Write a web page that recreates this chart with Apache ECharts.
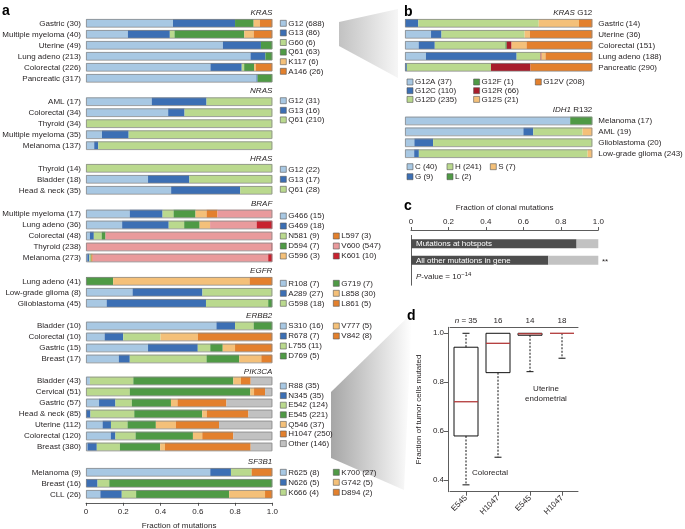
<!DOCTYPE html>
<html><head><meta charset="utf-8">
<script src="https://cdn.jsdelivr.net/npm/echarts@6/dist/echarts.min.js"></script>
<style>html,body{margin:0;padding:0;background:#fff}#c{width:685px;height:529px}</style>
</head><body><div id="c"></div>
<script>
// ================= DATA =================
// Panel a : fraction of mutations per hotspot (one array per mutation, values follow the row order)
const krasRows = ['Gastric (30)', 'Multiple myeloma (40)', 'Uterine (49)', 'Lung adeno (213)', 'Colorectal (226)', 'Pancreatic (317)'];
const krasMuts = ['G12 (688)', 'G13 (86)', 'G60 (6)', 'Q61 (63)', 'K117 (6)', 'A146 (26)'];
const krasG12 = [0.467, 0.225, 0.735, 0.883, 0.668, 0.915];
const krasG13 = [0.333, 0.225, 0.204, 0.080, 0.168, 0.006];
const krasG60 = [0, 0.025, 0, 0, 0.013, 0];
const krasQ61 = [0.100, 0.375, 0.061, 0.037, 0.053, 0.079];
const krasK117 = [0.033, 0.050, 0, 0, 0.009, 0];
const krasA146 = [0.067, 0.100, 0, 0, 0.089, 0];

const nrasRows = ['AML (17)', 'Colorectal (34)', 'Thyroid (34)', 'Multiple myeloma (35)', 'Melanoma (137)'];
const nrasMuts = ['G12 (31)', 'G13 (16)', 'Q61 (210)'];
const nrasG12 = [0.353, 0.441, 0, 0.086, 0.044];
const nrasG13 = [0.294, 0.088, 0, 0.143, 0.022];
const nrasQ61 = [0.353, 0.471, 1, 0.771, 0.934];

const hrasRows = ['Thyroid (14)', 'Bladder (18)', 'Head & neck (35)'];
const hrasMuts = ['G12 (22)', 'G13 (17)', 'Q61 (28)'];
const hrasG12 = [0, 0.333, 0.457];
const hrasG13 = [0, 0.222, 0.371];
const hrasQ61 = [1, 0.445, 0.172];

const brafRows = ['Multiple myeloma (17)', 'Lung adeno (36)', 'Colorectal (48)', 'Thyroid (238)', 'Melanoma (273)'];
const brafMuts = ['G466 (15)', 'G469 (18)', 'N581 (9)', 'D594 (7)', 'G596 (3)', 'L597 (3)', 'V600 (547)', 'K601 (10)'];
const brafG466 = [0.235, 0.194, 0.021, 0, 0.007];
const brafG469 = [0.176, 0.250, 0.021, 0, 0.011];
const brafN581 = [0.059, 0.083, 0.042, 0, 0.007];
const brafD594 = [0.118, 0.083, 0.021, 0, 0.004];
const brafG596 = [0.059, 0.056, 0, 0, 0];
const brafL597 = [0.059, 0, 0, 0, 0.007];
const brafV600 = [0.294, 0.250, 0.895, 0.996, 0.942];
const brafK601 = [0, 0.084, 0, 0.004, 0.022];

const egfrRows = ['Lung adeno (41)', 'Low-grade glioma (8)', 'Glioblastoma (45)'];
const egfrMuts = ['R108 (7)', 'A289 (27)', 'G598 (18)', 'G719 (7)', 'L858 (30)', 'L861 (5)'];
const egfrR108 = [0, 0.250, 0.111];
const egfrA289 = [0, 0.375, 0.533];
const egfrG598 = [0, 0.375, 0.334];
const egfrG719 = [0.146, 0, 0.022];
const egfrL858 = [0.732, 0, 0];
const egfrL861 = [0.122, 0, 0];

const erbb2Rows = ['Bladder (10)', 'Colorectal (10)', 'Gastric (15)', 'Breast (17)'];
const erbb2Muts = ['S310 (16)', 'R678 (7)', 'L755 (11)', 'D769 (5)', 'V777 (5)', 'V842 (8)'];
const erbb2S310 = [0.7, 0.1, 0.333, 0.176];
const erbb2R678 = [0.1, 0.1, 0.267, 0.059];
const erbb2L755 = [0.1, 0.2, 0.067, 0.412];
const erbb2D769 = [0.1, 0, 0.067, 0.176];
const erbb2V777 = [0, 0.2, 0.066, 0.118];
const erbb2V842 = [0, 0.4, 0.200, 0.059];

const pik3caRows = ['Bladder (43)', 'Cervical (51)', 'Gastric (57)', 'Head & neck (85)', 'Uterine (112)', 'Colorectal (120)', 'Breast (380)'];
const pik3caMuts = ['R88 (35)', 'N345 (35)', 'E542 (124)', 'E545 (221)', 'Q546 (37)', 'H1047 (250)', 'Other (146)'];
const pikR88 = [0.021, 0, 0.070, 0, 0.089, 0.133, 0.008];
const pikN345 = [0, 0, 0.088, 0.024, 0.045, 0.025, 0.050];
const pikE542 = [0.233, 0.235, 0.088, 0.235, 0.089, 0.108, 0.124];
const pikE545 = [0.537, 0.647, 0.210, 0.365, 0.152, 0.308, 0.216];
const pikQ546 = [0.041, 0.020, 0.035, 0.024, 0.107, 0.050, 0.026];
const pikH1047 = [0.052, 0.059, 0.263, 0.224, 0.232, 0.167, 0.460];
const pikOther = [0.116, 0.039, 0.246, 0.128, 0.286, 0.209, 0.116];

const sf3b1Rows = ['Melanoma (9)', 'Breast (16)', 'CLL (26)'];
const sf3b1Muts = ['R625 (8)', 'N626 (5)', 'K666 (4)', 'K700 (27)', 'G742 (5)', 'D894 (2)'];
const sfR625 = [0.667, 0, 0.077];
const sfN626 = [0.111, 0.062, 0.115];
const sfK666 = [0.111, 0.063, 0.077];
const sfK700 = [0, 0.875, 0.500];
const sfG742 = [0, 0, 0.192];
const sfD894 = [0.111, 0, 0.039];

// Panel b
const g12Rows = ['Gastric (14)', 'Uterine (36)', 'Colorectal (151)', 'Lung adeno (188)', 'Pancreatic (290)'];
const g12Muts = ['G12A (37)', 'G12C (110)', 'G12D (235)', 'G12F (1)', 'G12R (66)', 'G12S (21)', 'G12V (208)'];
const g12A = [0, 0.139, 0.073, 0.112, 0];
const g12C = [0.071, 0.056, 0.086, 0.484, 0.010];
const g12D = [0.643, 0.444, 0.377, 0.128, 0.449];
const g12F = [0, 0, 0.007, 0, 0];
const g12R = [0, 0, 0.026, 0.005, 0.211];
const g12S = [0.215, 0.028, 0.080, 0.021, 0];
const g12V = [0.071, 0.333, 0.351, 0.250, 0.330];

const idhRows = ['Melanoma (17)', 'AML (19)', 'Glioblastoma (20)', 'Low-grade glioma (243)'];
const idhMuts = ['C (40)', 'G (9)', 'H (241)', 'L (2)', 'S (7)'];
const idhC = [0.882, 0.632, 0.050, 0.049];
const idhG = [0, 0.053, 0.100, 0.025];
const idhH = [0, 0.263, 0.850, 0.901];
const idhL = [0.118, 0, 0, 0];
const idhS = [0, 0.052, 0, 0.025];

// Panel c
const clonalRows = ['Mutations at hotspots', 'All other mutations in gene', ''];
const clonalFrac = [0.884, 0.733, null];
const otherFrac = [0.116, 0.267, null];

// Panel d : [low whisker, Q1, median, Q3, high whisker]
const boxCats = ['E545', 'H1047', 'E545', 'H1047'];
const boxN = ['35', '16', '14', '18'];
const boxStats = [
  [0.380, 0.580, 0.720, 0.943, 1.000],
  [0.493, 0.839, 0.959, 1.000, 1.000],
  [0.843, 0.992, 0.998, 1.000, 1.000],
  [0.898, 1.000, 1.000, 1.000, 1.000]
];
const yTicksD = [0.4, 0.6, 0.8, 1.0];

// ================= STYLE =================
const FONT = '"Liberation Sans", Arial, Helvetica, sans-serif';
const FS = 8;
const TXT = '#231f20';
const LB = '#a8c8e3', DB = '#3c6fb4', LG = '#bad98e', DG = '#4f9a45', LO = '#f4c079', DO = '#e3802d',
      PK = '#e99a9c', RD = '#c8222f', GR = '#c1c1c1', DR = '#a81d2b';

const grids = [], xAxes = [], yAxes = [], series = [], legends = [], graphics = [];
const G = g => Object.assign({ outerBoundsMode: 'none', containLabel: false }, g);

function addBlock(o) {
  const gi = grids.length;
  const n = o.rows.length;
  grids.push(G({ left: o.left, width: o.width, top: o.firstY - o.rowH / 2, height: n * o.rowH }));
  xAxes.push(Object.assign({ type: 'value', gridIndex: gi, min: 0, max: 1, show: false }, o.xAxis || {}));
  yAxes.push({
    type: 'category', gridIndex: gi, data: o.rows, inverse: true, position: o.side || 'left',
    axisLine: { show: false }, axisTick: { show: false },
    axisLabel: { show: true, interval: 0, fontSize: FS, color: TXT, margin: o.labelMargin || 5, fontFamily: FONT, hideOverlap: false }
  });
  o.muts.forEach((m, k) => {
    series.push({
      type: 'bar', name: m, xAxisIndex: gi, yAxisIndex: gi, stack: 'st' + gi, data: o.vals[k],
      barWidth: o.barW, barGap: '-100%', itemStyle: { color: o.colors[k] }, silent: true
    });
  });
  series.push({
    type: 'bar', name: '_frame' + gi, xAxisIndex: gi, yAxisIndex: gi, data: o.rows.map(() => 1),
    barWidth: o.barW + 0.6, barGap: '-100%', silent: true, z: 3,
    itemStyle: { color: 'rgba(0,0,0,0)', borderColor: '#8a8a8a', borderWidth: 0.8 }
  });
  (o.legendCols || []).forEach(c => {
    legends.push({
      orient: 'vertical', left: c.x, top: c.y - c.gap / 2, padding: 0, itemGap: 0,
      itemWidth: 6, itemHeight: 6, icon: 'rect', selectedMode: false,
      data: o.muts.slice(c.from, c.to),
      itemStyle: { borderColor: '#555', borderWidth: 0.6 },
      textStyle: { fontSize: FS, lineHeight: c.gap, color: TXT, fontFamily: FONT, padding: [0, 0, 0, -3] }
    });
  });
  if (o.gene) {
    graphics.push({
      type: 'text', x: o.gene.x, y: o.gene.y,
      style: { text: o.gene.text, rich: { i: { fontStyle: 'italic', fontSize: FS, fontFamily: FONT, fill: TXT } },
        fontSize: FS, fontFamily: FONT, fill: TXT, align: 'right', verticalAlign: 'middle' }
    });
  }
}

const A = { left: 86, width: 186.3, rowH: 11, barW: 8 };
addBlock(Object.assign({}, A, { rows: krasRows, muts: krasMuts, vals: [krasG12, krasG13, krasG60, krasQ61, krasK117, krasA146],
  colors: [LB, DB, LG, DG, LO, DO], firstY: 23.3, legendCols: [{ x: 280, y: 23.3, from: 0, to: 6, gap: 9.6 }],
  gene: { text: '{i|KRAS}', x: 272.3, y: 12.3 } }));
addBlock(Object.assign({}, A, { rows: nrasRows, muts: nrasMuts, vals: [nrasG12, nrasG13, nrasQ61],
  colors: [LB, DB, LG], firstY: 101.7, legendCols: [{ x: 280, y: 100.7, from: 0, to: 3, gap: 9.6 }],
  gene: { text: '{i|NRAS}', x: 272.3, y: 91.2 } }));
addBlock(Object.assign({}, A, { rows: hrasRows, muts: hrasMuts, vals: [hrasG12, hrasG13, hrasQ61],
  colors: [LB, DB, LG], firstY: 168.3, legendCols: [{ x: 280, y: 169.3, from: 0, to: 3, gap: 10 }],
  gene: { text: '{i|HRAS}', x: 272.3, y: 158.6 } }));
addBlock(Object.assign({}, A, { rows: brafRows, muts: brafMuts, vals: [brafG466, brafG469, brafN581, brafD594, brafG596, brafL597, brafV600, brafK601],
  colors: [LB, DB, LG, DG, LO, DO, PK, RD], firstY: 214, legendCols: [{ x: 280, y: 216, from: 0, to: 5, gap: 10 }, { x: 333, y: 236, from: 5, to: 8, gap: 10 }],
  gene: { text: '{i|BRAF}', x: 272.3, y: 203.6 } }));
addBlock(Object.assign({}, A, { rows: egfrRows, muts: egfrMuts, vals: [egfrR108, egfrA289, egfrG598, egfrG719, egfrL858, egfrL861],
  colors: [LB, DB, LG, DG, LO, DO], firstY: 281.3, legendCols: [{ x: 280, y: 283.3, from: 0, to: 3, gap: 10 }, { x: 333, y: 283.3, from: 3, to: 6, gap: 10 }],
  gene: { text: '{i|EGFR}', x: 272.3, y: 270.7 } }));
addBlock(Object.assign({}, A, { rows: erbb2Rows, muts: erbb2Muts, vals: [erbb2S310, erbb2R678, erbb2L755, erbb2D769, erbb2V777, erbb2V842],
  colors: [LB, DB, LG, DG, LO, DO], firstY: 326, legendCols: [{ x: 280, y: 326, from: 0, to: 4, gap: 10 }, { x: 333, y: 326, from: 4, to: 6, gap: 10 }],
  gene: { text: '{i|ERBB2}', x: 272.3, y: 316.2 } }));
addBlock(Object.assign({}, A, { rows: pik3caRows, muts: pik3caMuts, vals: [pikR88, pikN345, pikE542, pikE545, pikQ546, pikH1047, pikOther],
  colors: [LB, DB, LG, DG, LO, DO, GR], firstY: 381, legendCols: [{ x: 280, y: 386, from: 0, to: 7, gap: 9.6 }],
  gene: { text: '{i|PIK3CA}', x: 272.3, y: 371.8 } }));
addBlock(Object.assign({}, A, { rows: sf3b1Rows, muts: sf3b1Muts, vals: [sfR625, sfN626, sfK666, sfK700, sfG742, sfD894],
  colors: [LB, DB, LG, DG, LO, DO], firstY: 472.3, legendCols: [{ x: 280, y: 472.3, from: 0, to: 3, gap: 10 }, { x: 333, y: 472.3, from: 3, to: 6, gap: 10 }],
  gene: { text: '{i|SF3B1}', x: 272.3, y: 461.8 },
  xAxis: {
    show: true, position: 'bottom', offset: 3, interval: 0.2,
    axisLine: { show: true, lineStyle: { color: '#333', width: 0.8 } },
    axisTick: { show: true, length: 3, lineStyle: { color: '#333', width: 0.8 } },
    axisLabel: { fontSize: FS, color: TXT, fontFamily: FONT, margin: 5, formatter: v => v === 0 ? '0' : v.toFixed(1) },
    splitLine: { show: false },
    name: 'Fraction of mutations', nameLocation: 'middle', nameGap: 19,
    nameTextStyle: { fontSize: FS, color: TXT, fontFamily: FONT }
  } }));

// Panel b
const B = { left: 405, width: 187.3, barW: 8, side: 'right', labelMargin: 6 };
addBlock(Object.assign({}, B, { rows: g12Rows, muts: g12Muts, vals: [g12A, g12C, g12D, g12F, g12R, g12S, g12V],
  colors: [LB, DB, LG, DG, DR, LO, DO], firstY: 23.3, rowH: 11,
  legendCols: [{ x: 406.7, y: 82, from: 0, to: 3, gap: 8.7 }, { x: 473.3, y: 82, from: 3, to: 6, gap: 8.7 }, { x: 535, y: 82, from: 6, to: 7, gap: 8.7 }],
  gene: { text: '{i|KRAS} G12', x: 592.3, y: 12.3 } }));
addBlock(Object.assign({}, B, { rows: idhRows, muts: idhMuts, vals: [idhC, idhG, idhH, idhL, idhS],
  colors: [LB, DB, LG, DG, LO], firstY: 121, rowH: 10.9,
  legendCols: [{ x: 406.7, y: 166.7, from: 0, to: 2, gap: 10 }, { x: 446.7, y: 166.7, from: 2, to: 4, gap: 10 }, { x: 490, y: 166.7, from: 4, to: 5, gap: 10 }],
  gene: { text: '{i|IDH1} R132', x: 592.3, y: 109.5 } }));

// Panel c
const gc = grids.length;
grids.push(G({ left: 411, width: 187.3, top: 235.4, height: 49.8 }));
xAxes.push({
  type: 'value', gridIndex: gc, min: 0, max: 1, interval: 0.2, position: 'top', offset: 5.4,
  axisLine: { show: true, lineStyle: { color: '#333', width: 0.8 } },
  axisTick: { show: true, length: 3, lineStyle: { color: '#333', width: 0.8 } },
  axisLabel: { fontSize: FS, color: TXT, fontFamily: FONT, margin: 4, formatter: v => v === 0 ? '0' : v.toFixed(1) },
  splitLine: { show: false },
  name: 'Fraction of clonal mutations', nameLocation: 'middle', nameGap: 18,
  nameTextStyle: { fontSize: FS, color: TXT, fontFamily: FONT }
});
yAxes.push({ type: 'category', gridIndex: gc, data: clonalRows, inverse: true,
  axisLine: { show: true, lineStyle: { color: '#333', width: 0.8 } }, axisTick: { show: false }, axisLabel: { show: false } });
series.push({ type: 'bar', name: 'clonal', xAxisIndex: gc, yAxisIndex: gc, stack: 'c', data: clonalFrac, barWidth: 9, silent: true,
  itemStyle: { color: '#4d4d4d' },
  label: { show: true, position: 'insideLeft', distance: 5, formatter: '{b}', color: '#fff', fontSize: FS, fontFamily: FONT } });
series.push({ type: 'bar', name: 'subclonal', xAxisIndex: gc, yAxisIndex: gc, stack: 'c', data: otherFrac, barWidth: 9, silent: true,
  itemStyle: { color: '#c2c2c2' } });

// Panel d
const gd = grids.length;
grids.push(G({ left: 450, width: 128, top: 327.3, height: 164.4 }));
xAxes.push({ type: 'category', gridIndex: gd, data: boxCats, position: 'bottom',
  axisLine: { show: true, lineStyle: { color: '#333', width: 0.8 } },
  axisTick: { show: true, alignWithLabel: true, interval: 0, length: 4, lineStyle: { color: '#333', width: 0.8 } },
  axisLabel: { interval: 0, rotate: 45, fontSize: FS, color: TXT, fontFamily: FONT, margin: 5 } });
xAxes.push({ type: 'category', gridIndex: gd, data: boxN, position: 'top',
  axisLine: { show: true, lineStyle: { color: '#333', width: 0.8 } }, axisTick: { show: false },
  axisLabel: { interval: 0, fontSize: FS, color: TXT, fontFamily: FONT, margin: 3, hideOverlap: false,
    formatter: (v, i) => i === 0 ? '{i|n} = ' + v : v, rich: { i: { fontStyle: 'italic', fontSize: FS, fontFamily: FONT, color: TXT } } } });
yAxes.push({ type: 'value', gridIndex: gd, min: 0.352, max: 1.0245, offset: 2,
  axisLine: { show: true, lineStyle: { color: '#333', width: 0.8 } },
  axisTick: { show: true, length: 4, customValues: yTicksD, lineStyle: { color: '#333', width: 0.8 } },
  axisLabel: { customValues: yTicksD, fontSize: FS, color: TXT, fontFamily: FONT, margin: 4, formatter: v => v.toFixed(1) },
  splitLine: { show: false },
  name: 'Fraction of tumor cells mutated', nameLocation: 'middle', nameGap: 25,
  nameTextStyle: { fontSize: FS, color: TXT, fontFamily: FONT } });
series.push({
  type: 'custom', name: 'box', xAxisIndex: gd, yAxisIndex: gd, silent: true, z: 5,
  data: boxStats.map((s, i) => [i].concat(s)),
  encode: { x: 0, y: [1, 2, 3, 4, 5] },
  renderItem: function (params, api) {
    const i = api.value(0);
    const lo = api.value(1), q1 = api.value(2), med = api.value(3), q3 = api.value(4), hi = api.value(5);
    const cx = api.coord([i, med])[0];
    const bw = 24, cap = 7;
    const y = v => api.coord([i, v])[1];
    const ch = [];
    const blk = { stroke: '#111', lineWidth: 1, fill: null };
    if (lo < q1) {
      ch.push({ type: 'line', shape: { x1: cx, y1: y(q1), x2: cx, y2: y(lo) }, style: { stroke: '#111', lineWidth: 1, lineDash: [2, 1.5] } });
      ch.push({ type: 'line', shape: { x1: cx - cap / 2, y1: y(lo), x2: cx + cap / 2, y2: y(lo) }, style: blk });
    }
    if (hi > q3) {
      ch.push({ type: 'line', shape: { x1: cx, y1: y(q3), x2: cx, y2: y(hi) }, style: { stroke: '#111', lineWidth: 1, lineDash: [2, 1.5] } });
      ch.push({ type: 'line', shape: { x1: cx - cap / 2, y1: y(hi), x2: cx + cap / 2, y2: y(hi) }, style: blk });
    }
    if (q3 > q1) {
      ch.push({ type: 'rect', shape: { x: cx - bw / 2, y: y(q3), width: bw, height: y(q1) - y(q3) }, style: blk });
    }
    ch.push({ type: 'line', shape: { x1: cx - bw / 2, y1: y(med), x2: cx + bw / 2, y2: y(med) }, style: { stroke: '#b23a3a', lineWidth: 1.3 } });
    return { type: 'group', children: ch };
  }
});

// Decorative zoom wedges and annotations
const T = (t, x, y, extra) => ({ type: 'text', x: x, y: y, z: 10,
  style: Object.assign({ text: t, fontSize: FS, fontFamily: FONT, fill: TXT, align: 'left', verticalAlign: 'middle' }, extra || {}) });
graphics.push({ type: 'polygon', z: -5, shape: { points: [[339, 22], [398, 9], [398, 78], [339, 46]] },
  style: { fill: new echarts.graphic.LinearGradient(0, 0, 1, 0, [{ offset: 0, color: '#c2c2c2' }, { offset: 1, color: '#f6f6f6' }]) } });
graphics.push({ type: 'polygon', z: -5, shape: { points: [[331, 392], [412, 313], [404, 490], [331, 458]] },
  style: { fill: new echarts.graphic.LinearGradient(0, 0, 1, 0, [{ offset: 0, color: '#a6a6a6' }, { offset: 1, color: '#ffffff' }]) } });
graphics.push(T('a', 2, 11, { fontSize: 14, fontWeight: 'bold', fill: '#000' }));
graphics.push(T('b', 404, 12, { fontSize: 14, fontWeight: 'bold', fill: '#000' }));
graphics.push(T('c', 404, 206, { fontSize: 14, fontWeight: 'bold', fill: '#000' }));
graphics.push(T('d', 407, 316, { fontSize: 14, fontWeight: 'bold', fill: '#000' }));
graphics.push(T('**', 602, 262, { fontSize: FS }));
graphics.push(T('{i|P}-value = 10{s|\u221214}', 416, 277, {
  rich: { i: { fontStyle: 'italic', fontSize: FS, fontFamily: FONT, fill: TXT }, s: { fontSize: 6, fontFamily: FONT, fill: TXT, verticalAlign: 'top', padding: [0, 0, 5, 0] } } }));
graphics.push(T('Colorectal', 472, 473, { fontSize: FS }));
graphics.push(T('Uterine', 546, 389, { fontSize: FS, align: 'center' }));
graphics.push(T('endometrial', 546, 399, { fontSize: FS, align: 'center' }));

const chart = echarts.init(document.getElementById('c'), null, { renderer: 'canvas' });
chart.setOption({
  animation: false,
  backgroundColor: '#fff',
  textStyle: { fontFamily: FONT },
  grid: grids, xAxis: xAxes, yAxis: yAxes, series: series, legend: legends,
  graphic: { elements: graphics }
});
</script></body></html>
